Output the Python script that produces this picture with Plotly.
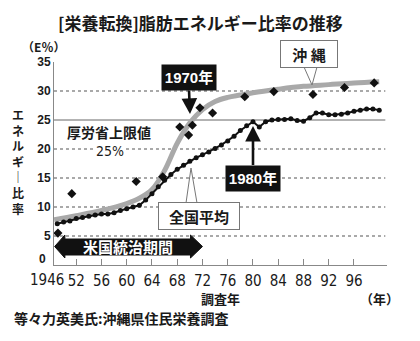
import plotly.graph_objects as go

# ---------------- data ----------------
# National average (全国平均), annual survey
nat_years = list(range(1949, 2001))
nat_values = [7.1, 7.4, 7.6, 8.0, 8.2, 8.4, 8.6, 8.8, 8.8, 9.0,
              9.4, 9.7, 10.0, 10.3, 11.2, 12.3, 13.5, 14.6, 15.6, 16.5,
              17.2, 17.9, 18.5, 19.0, 19.5, 20.1, 20.7, 21.4, 22.2, 23.2,
              24.0, 24.7, 23.8, 24.7, 25.0, 25.1, 25.1, 25.2, 24.9, 24.8,
              25.4, 26.2, 26.2, 25.9, 25.9, 26.0, 26.2, 26.5, 26.7, 26.9,
              26.9, 26.7]

# Okinawa (沖縄) smoothed trend
oki_curve_years = [1948.5, 1952, 1956, 1960, 1962, 1964, 1966, 1968, 1970, 1972,
                   1974, 1976, 1978, 1980, 1984, 1988, 1992, 1996, 2000]
oki_curve_values = [7.8, 8.5, 9.4, 10.6, 11.5, 13.0, 16.3, 21.0, 24.5, 26.8,
                    28.2, 28.9, 29.3, 29.7, 30.3, 30.8, 31.1, 31.4, 31.6]

# Okinawa survey points
oki_pt_years = [1949.1, 1951.3, 1961.5, 1965.7, 1968.4, 1969.8, 1970.4, 1971.6,
                1973.6, 1978.7, 1983.3, 1989.5, 1994.5, 1999.2]
oki_pt_values = [5.5, 12.3, 14.4, 15.2, 23.8, 22.4, 24.1, 27.1,
                 26.2, 29.0, 29.9, 29.4, 30.6, 31.4]

x_tick_years = list(range(1952, 1997, 4))
x_tick_text = [str(y)[2:] for y in x_tick_years]
y_ticks = [5, 10, 15, 20, 25, 30, 35]
grid_dotted = [5, 10, 15, 20, 30]
mhlw_limit = 25
us_rule_end = 1972
x_range = [1948.48, 2001.23]

# ---------------- styling ----------------
CJK = "Noto Sans CJK JP"
NUM = "Liberation Sans Narrow, Arial Narrow, DejaVu Sans Condensed, Noto Sans CJK JP, sans-serif"
SANS = "Liberation Sans, Arial, Noto Sans CJK JP, sans-serif"
TXT = "#1a1a1a"

# plot area in page pixels (for decorative placements)
L, R, T, B = 54, 387, 62, 265
W, H = R - L, B - T


def px(xp):
    return (xp - L) / W


def py(yp):
    return (B - yp) / H


fig = go.Figure()

fig.add_trace(go.Scatter(
    x=oki_curve_years, y=oki_curve_values, mode="lines",
    line=dict(color="#a9a9a9", width=5, shape="spline", smoothing=1.0),
    hoverinfo="skip", showlegend=False))

fig.add_trace(go.Scatter(
    x=nat_years, y=nat_values, mode="lines+markers",
    line=dict(color="#111", width=2),
    marker=dict(color="#111", size=5, symbol="circle"),
    showlegend=False))

fig.add_trace(go.Scatter(
    x=oki_pt_years, y=oki_pt_values, mode="markers",
    marker=dict(color="#111", size=7, symbol="diamond"),
    showlegend=False))

shapes = []
for g in grid_dotted:
    shapes.append(dict(type="line", xref="paper", yref="y", x0=0, x1=0.995, y0=g, y1=g,
                       line=dict(color="#555", width=1.2, dash="dot"), layer="below"))
shapes.append(dict(type="line", xref="paper", yref="y", x0=0, x1=0.995,
                   y0=mhlw_limit, y1=mhlw_limit,
                   line=dict(color="#666", width=1), layer="below"))

# US administration period double-headed band
x0 = x_range[0] + 0.1
xb0 = 1950.2
xb1 = us_rule_end - 1.9
mid, bt, bb, ht, hb = py(246.5), py(239), py(255), py(235), py(258)
path = (f"M {x0},{mid} L {xb0},{ht} L {xb0},{bt} L {xb1},{bt} L {xb1},{ht} "
        f"L {us_rule_end},{mid} L {xb1},{hb} L {xb1},{bb} L {xb0},{bb} L {xb0},{hb} Z")
shapes.append(dict(type="path", xref="x", yref="paper", path=path,
                   fillcolor="#111", line=dict(color="#111", width=1), layer="above"))


# callout wedges
def wedge(p1, p2, tip):
    return dict(type="path", xref="paper", yref="paper",
                path=f"M {px(p1[0])},{py(p1[1])} L {px(tip[0])},{py(tip[1])} L {px(p2[0])},{py(p2[1])} Z",
                fillcolor="white", line=dict(color="#777", width=1), layer="above")


shapes.append(wedge((304, 67), (317, 67), (312, 85)))
shapes.append(wedge((186, 203), (197, 203), (191, 168)))

ann = []


def text(x, y, s, size, family=CJK, color=TXT, weight="normal", xanchor="center", **kw):
    ann.append(dict(xref="paper", yref="paper", x=px(x), y=py(y), text=s, showarrow=False,
                    xanchor=xanchor, yanchor="middle",
                    font=dict(family=family, size=size, color=color, weight=weight), **kw))


text(200, 22, "[栄養転換]脂肪エネルギー比率の推移", 17, weight="bold")
text(43, 46, "（E％）", 12, weight="bold")
text(18, 161.5, "エ<br>ネ<br>ル<br>ギ<br>｜<br>比<br>率", 12, weight="bold")
text(48, 259, "0", 12, family=SANS, weight="bold", xanchor="right")
text(47, 280, "1946", 15, family=NUM)
text(220, 298, "調査年", 13, weight="bold")
text(379, 298, "（年）", 13, weight="bold")
text(12, 318, "等々力英美氏:沖縄県住民栄養調査", 14, weight="bold", xanchor="left")
text(109, 132, "厚労省上限値", 14, weight="bold")
text(110, 150.5, "25%", 14, family=NUM, bgcolor="white")
text(128, 246.5, "米国統治期間", 15, color="white", weight="bold")
text(309, 54, "沖 縄", 15, weight="bold", bgcolor="white", bordercolor="#777",
     borderwidth=1, width=52, height=22, borderpad=2)
text(198.5, 216, "全国平均", 15, weight="bold", bgcolor="white", bordercolor="#777",
     borderwidth=1, width=76, height=22, borderpad=2)

# labelled arrows
ann.append(dict(xref="paper", yref="paper", x=px(190), y=py(114), ax=-1.5, ay=-36.5,
                axref="pixel", ayref="pixel", text="1970年", showarrow=True,
                arrowhead=2, arrowsize=1.2, arrowwidth=2.6, arrowcolor="#111",
                bgcolor="#111", borderpad=3, width=48, height=19,
                font=dict(family=SANS, size=15, color="white", weight="bold")))
ann.append(dict(xref="paper", yref="paper", x=px(253), y=py(126), ax=0, ay=52,
                axref="pixel", ayref="pixel", text="1980年", showarrow=True,
                arrowhead=2, arrowsize=1.2, arrowwidth=2.6, arrowcolor="#111",
                bgcolor="#111", borderpad=3, width=48, height=19,
                font=dict(family=SANS, size=15, color="white", weight="bold")))

fig.update_layout(
    width=420, height=341, autosize=False,
    margin=dict(l=L, r=420 - R, t=T, b=341 - B),
    paper_bgcolor="white", plot_bgcolor="white",
    shapes=shapes, annotations=ann, showlegend=False,
    xaxis=dict(range=x_range, tickvals=x_tick_years, ticktext=x_tick_text,
               ticks="inside", ticklen=6, tickcolor="#888", tickwidth=1,
               showline=True, linecolor="#888", linewidth=1, showgrid=False,
               zeroline=False, ticklabelstandoff=2,
               tickfont=dict(family=NUM, size=15, color=TXT)),
    yaxis=dict(range=[0, 35], tickvals=y_ticks, ticks="", showline=True,
               linecolor="#888", linewidth=1, showgrid=False, zeroline=False,
               tickfont=dict(family=SANS, size=12, color=TXT, weight="bold")),
)

fig.write_html("out.html")
